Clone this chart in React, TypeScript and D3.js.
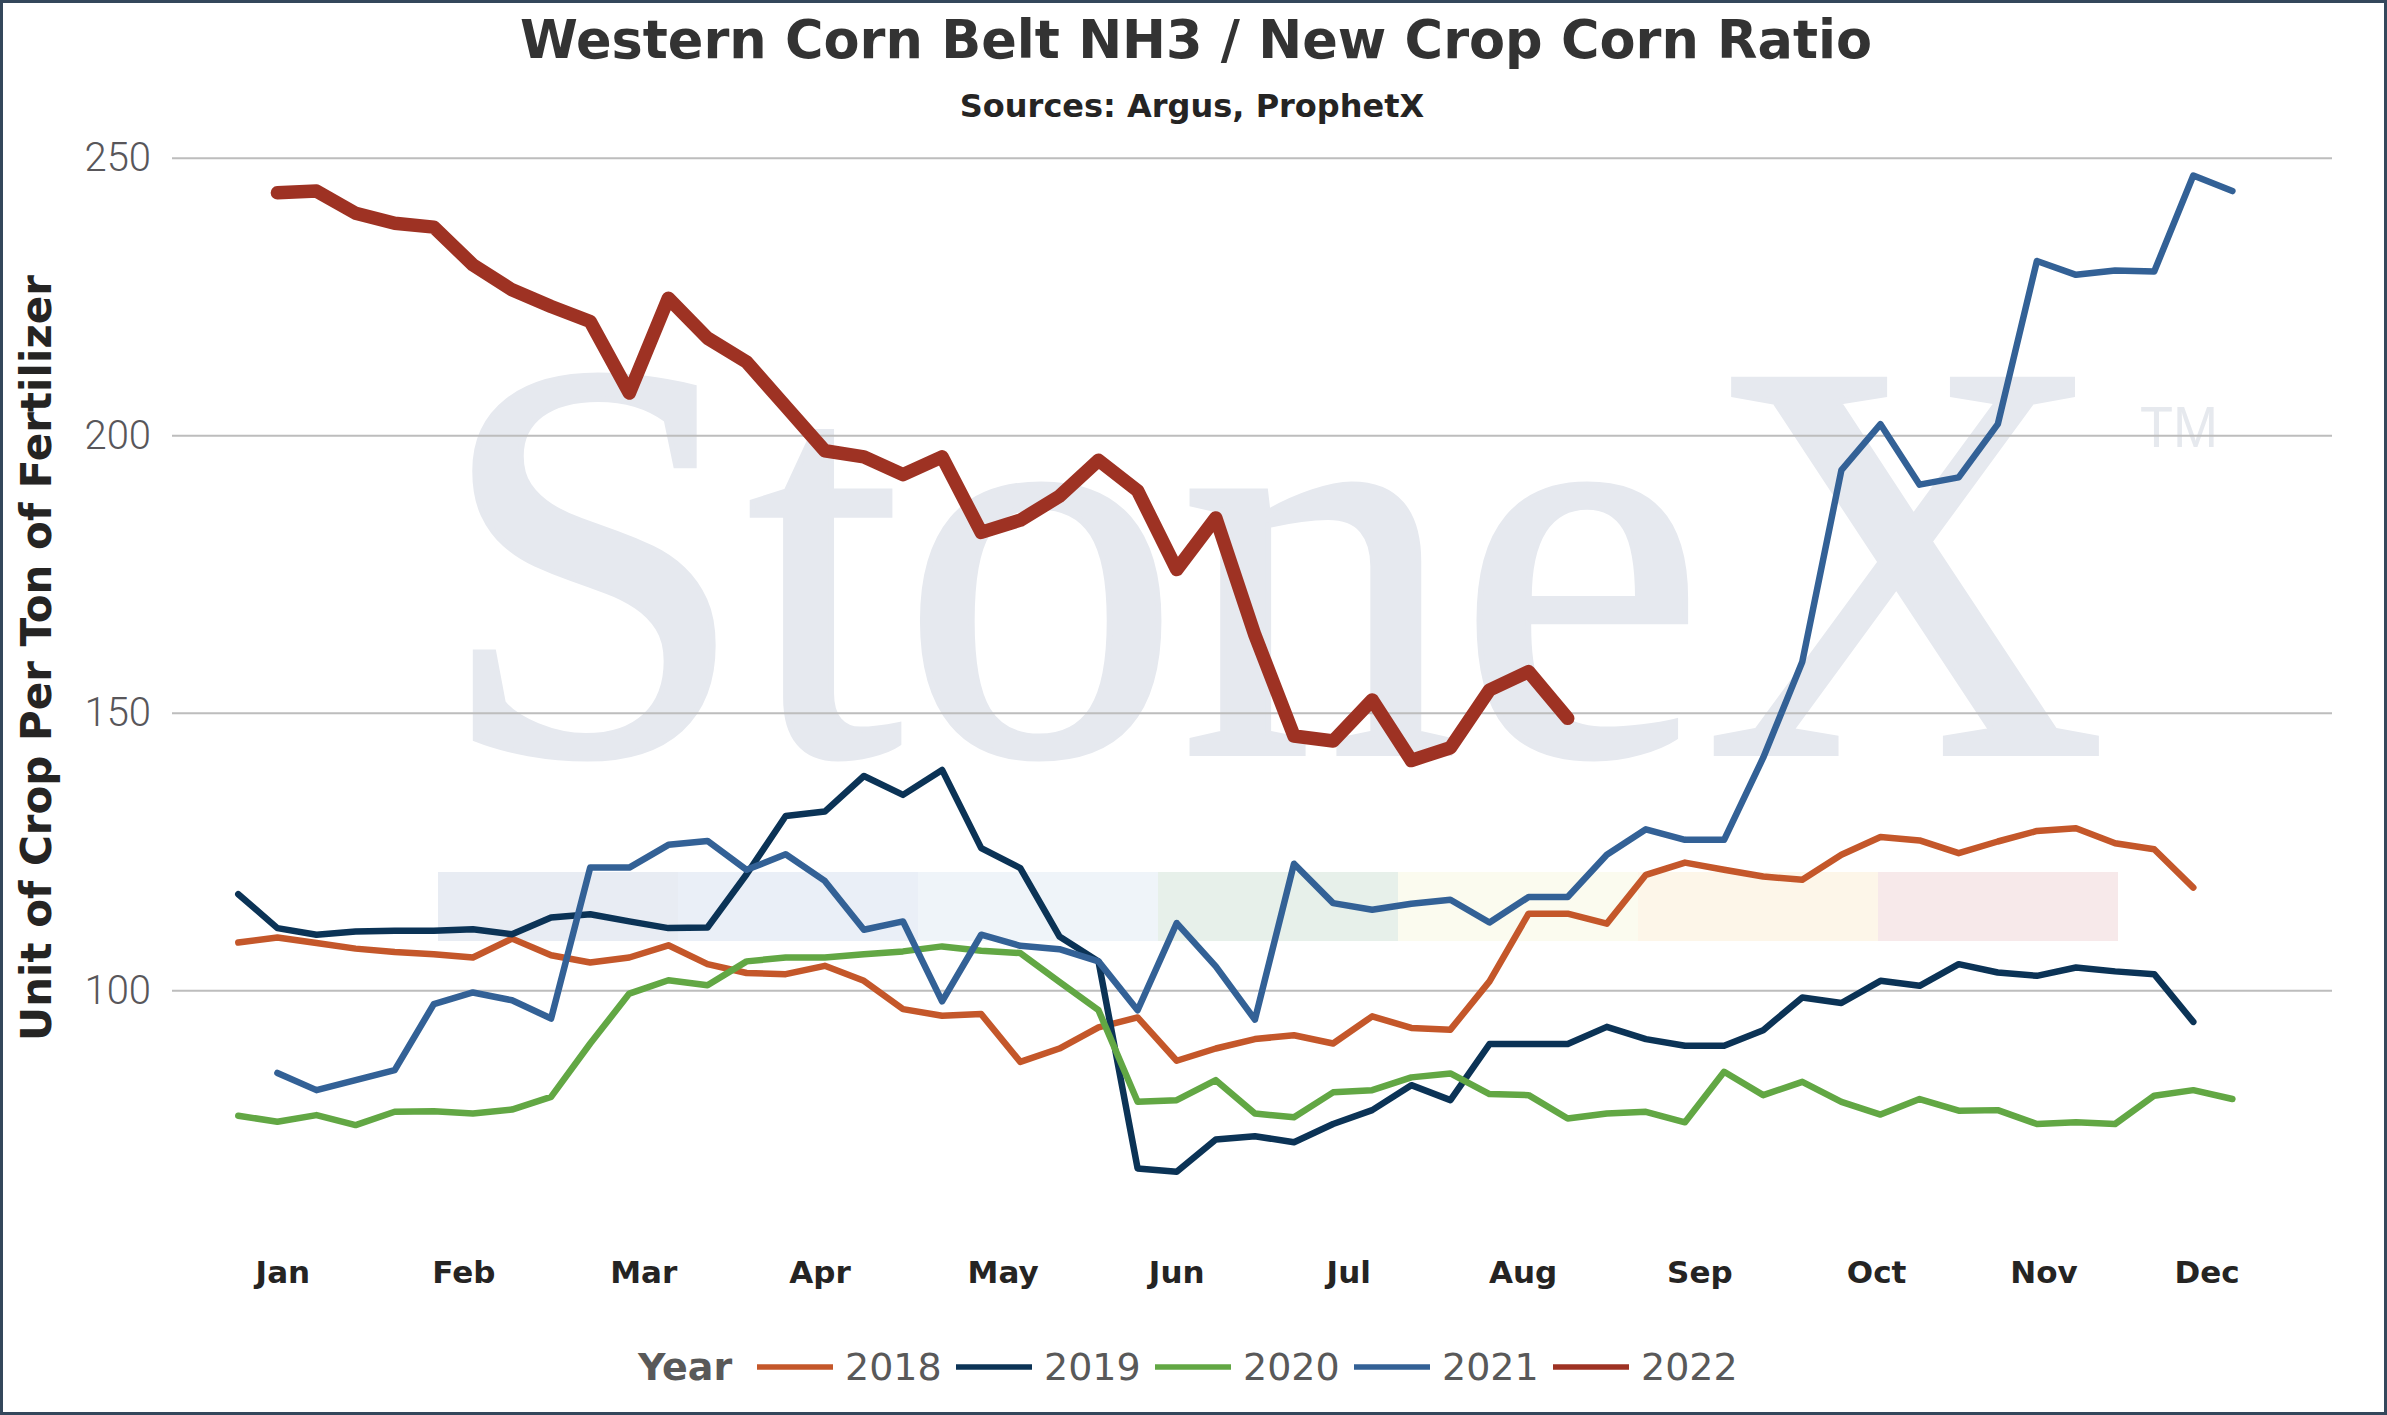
import React, { useEffect, useRef } from "react";
import * as d3 from "d3";

// weekly ratio values, index = week of year (null = no data yet)
const y2018 = [108.7, 109.6, 108.6, 107.6, 107.0, 106.6, 106.0, 109.4, 106.4, 105.1, 106.0, 108.2, 104.8, 103.2, 103.0, 104.5, 101.8, 96.7, 95.5, 95.8, 87.2, 89.6, 93.4, 95.2, 87.4, 89.6, 91.3, 92.0, 90.5, 95.4, 93.3, 93.0, 101.7, 113.9, 113.9, 112.1, 120.9, 123.1, 121.8, 120.6, 120.0, 124.5, 127.7, 127.1, 124.8, 126.9, 128.8, 129.3, 126.6, 125.5, 118.6];
const y2019 = [117.4, 111.3, 110.1, 110.7, 110.8, 110.8, 111.1, 110.2, 113.2, 113.8, 112.5, 111.3, 111.4, 121.0, 131.5, 132.3, 138.7, 135.3, 139.8, 125.7, 122.1, 109.8, 105.3, 68.0, 67.4, 73.2, 73.8, 72.7, 76.0, 78.5, 83.0, 80.3, 90.4, 90.4, 90.4, 93.5, 91.3, 90.1, 90.1, 92.9, 98.8, 97.8, 101.8, 100.9, 104.8, 103.3, 102.7, 104.2, 103.5, 103.0, 94.4];
const y2020 = [77.5, 76.4, 77.6, 75.8, 78.2, 78.3, 77.9, 78.6, 80.9, 90.5, 99.5, 101.9, 101.0, 105.3, 106.0, 106.0, 106.6, 107.1, 108.0, 107.2, 106.8, 101.6, 96.5, 80.0, 80.3, 83.9, 77.9, 77.2, 81.7, 82.1, 84.4, 85.1, 81.4, 81.2, 77.0, 77.9, 78.2, 76.3, 85.4, 81.2, 83.6, 80.0, 77.7, 80.5, 78.4, 78.5, 76.0, 76.3, 76.0, 81.1, 82.1, 80.5];
const y2021 = [null, 85.2, 82.1, 83.9, 85.7, 97.6, 99.7, 98.3, 95.0, 122.2, 122.2, 126.3, 127.0, 121.8, 124.6, 119.8, 111.0, 112.5, 98.1, 110.1, 108.1, 107.5, 105.3, 96.5, 112.2, 104.4, 94.8, 122.9, 115.8, 114.6, 115.7, 116.4, 112.3, 116.9, 116.9, 124.5, 129.1, 127.2, 127.2, 142.0, 159.3, 193.8, 202.1, 191.2, 192.5, 202.1, 231.5, 229.0, 229.8, 229.6, 246.9, 244.1];
const y2022 = [null, 243.8, 244.1, 240.1, 238.3, 237.6, 230.8, 226.3, 223.3, 220.6, 207.7, 224.8, 217.6, 213.3, 205.3, 197.3, 196.2, 193.0, 196.2, 182.6, 184.8, 189.1, 195.6, 190.1, 175.9, 185.2, 164.1, 145.9, 145.0, 152.4, 141.5, 143.8, 154.2, 157.5, 149.1];

const years = ["2018", "2019", "2020", "2021", "2022"];
const yearValues = [y2018, y2019, y2020, y2021, y2022];
const yearColors = ["#c4572a", "#0b3356", "#62a744", "#336196", "#9e3223"];

const monthLabels = ["Jan", "Feb", "Mar", "Apr", "May", "Jun", "Jul", "Aug", "Sep", "Oct", "Nov", "Dec"];
const monthWeeks = [1.14, 5.77, 10.37, 14.88, 19.56, 24.0, 28.4, 32.86, 37.38, 41.9, 46.18, 50.35];
const yTicks = [100, 150, 200, 250];

// StoneX logo stripe colours (watermark)
const bandColors = ["#e8ecf3", "#eaeff7", "#eff4f9", "#e7f0ea", "#fbfbef", "#fdf6e9", "#f7e9ea"];

const W = 2387;
const H = 1415;
const BOLD = "'DejaVu Sans', Verdana, sans-serif";

export default function App() {
  const svgRef = useRef<SVGSVGElement>(null);

  useEffect(() => {
    if (!svgRef.current) return;
    const svg = d3.select(svgRef.current);
    svg.selectAll("*").remove();

    const x = d3.scaleLinear().domain([0, 51]).range([238.3, 2232.4]);
    const y = d3.scaleLinear().domain([100, 250]).range([990.8, 158.3]);

    svg.append("rect").attr("width", W).attr("height", H).attr("fill", "#fff");

    // watermark
    const wm = svg.append("g");
    const bandX = d3.scaleLinear().domain([0, bandColors.length]).range([438, 2118]);
    wm.selectAll("rect.band")
      .data(bandColors)
      .join("rect")
      .attr("class", "band")
      .attr("x", (_, i) => bandX(i))
      .attr("width", bandX(1) - bandX(0))
      .attr("y", 872)
      .attr("height", 69)
      .attr("fill", (d) => d);
    wm.append("text")
      .attr("x", 438)
      .attr("y", 753)
      .attr("font-family", "'Liberation Serif', 'Times New Roman', serif")
      .attr("font-size", 570)
      .attr("textLength", 1668)
      .attr("lengthAdjust", "spacingAndGlyphs")
      .attr("fill", "#e6e9ef")
      .attr("stroke", "#e6e9ef")
      .attr("stroke-width", 6)
      .text("StoneX");
    wm.append("text")
      .attr("x", 2140)
      .attr("y", 447)
      .attr("font-family", "'Liberation Sans', Arial, sans-serif")
      .attr("font-size", 57)
      .attr("textLength", 78)
      .attr("lengthAdjust", "spacingAndGlyphs")
      .attr("fill", "#e6e9ee")
      .text("TM");

    // gridlines + y labels
    const grid = svg.append("g");
    grid.selectAll("line")
      .data(yTicks)
      .join("line")
      .attr("x1", 172)
      .attr("x2", 2332)
      .attr("y1", (d) => y(d))
      .attr("y2", (d) => y(d))
      .attr("stroke", "#bdbdbd")
      .attr("stroke-width", 2);
    grid.selectAll("text")
      .data(yTicks)
      .join("text")
      .attr("x", 151)
      .attr("y", (d) => y(d) + 13)
      .attr("text-anchor", "end")
      .attr("font-family", "Roboto, sans-serif")
      .attr("font-weight", 300)
      .attr("font-size", 40)
      .attr("fill", "#58565a")
      .text((d) => d);

    // month labels
    svg.append("g")
      .selectAll("text")
      .data(monthLabels)
      .join("text")
      .attr("x", (_, i) => x(monthWeeks[i]))
      .attr("y", 1283)
      .attr("text-anchor", "middle")
      .attr("font-family", BOLD)
      .attr("font-weight", "bold")
      .attr("font-size", 31)
      .attr("fill", "#252423")
      .text((d) => d);

    // series lines
    const line = d3
      .line<number | null>()
      .defined((d) => d != null)
      .x((_, i) => x(i))
      .y((d) => y(d as number));

    svg.append("g")
      .selectAll("path")
      .data(yearValues)
      .join("path")
      .attr("d", (d) => line(d))
      .attr("fill", "none")
      .attr("stroke", (_, i) => yearColors[i])
      .attr("stroke-width", (_, i) => (years[i] === "2022" ? 13.5 : 6.5))
      .attr("stroke-linejoin", "round")
      .attr("stroke-linecap", "round");

    // titles
    svg.append("text")
      .attr("x", 1196)
      .attr("y", 58)
      .attr("text-anchor", "middle")
      .attr("font-family", BOLD)
      .attr("font-weight", "bold")
      .attr("font-size", 52.5)
      .attr("fill", "#333")
      .text("Western Corn Belt NH3 / New Crop Corn Ratio");
    svg.append("text")
      .attr("x", 1192)
      .attr("y", 117)
      .attr("text-anchor", "middle")
      .attr("font-family", BOLD)
      .attr("font-weight", "bold")
      .attr("font-size", 32)
      .attr("fill", "#252423")
      .text("Sources: Argus, ProphetX");
    svg.append("text")
      .attr("transform", "translate(51,658) rotate(-90)")
      .attr("text-anchor", "middle")
      .attr("font-family", BOLD)
      .attr("font-weight", "bold")
      .attr("font-size", 42)
      .attr("fill", "#252423")
      .text("Unit of Crop Per Ton of Fertilizer");

    // legend
    const legend = svg.append("g");
    legend.append("text")
      .attr("x", 638)
      .attr("y", 1380)
      .attr("font-family", BOLD)
      .attr("font-weight", "bold")
      .attr("font-size", 38)
      .attr("fill", "#595959")
      .text("Year");
    const lx = d3.scaleLinear().domain([0, 1]).range([757, 956]);
    const item = legend
      .selectAll("g")
      .data(years)
      .join("g")
      .attr("transform", (_, i) => `translate(${lx(i)},0)`);
    item.append("line")
      .attr("x1", 0)
      .attr("x2", 76)
      .attr("y1", 1367)
      .attr("y2", 1367)
      .attr("stroke", (_, i) => yearColors[i])
      .attr("stroke-width", 5.5);
    item.append("text")
      .attr("x", 88)
      .attr("y", 1380)
      .attr("font-family", BOLD)
      .attr("font-size", 38)
      .attr("fill", "#595959")
      .text((d) => d);

    // frame
    svg.append("rect")
      .attr("x", 1.5)
      .attr("y", 1.5)
      .attr("width", W - 3)
      .attr("height", H - 3)
      .attr("fill", "none")
      .attr("stroke", "#34475b")
      .attr("stroke-width", 3);
  }, []);

  return (
    <>
      <style>{`body{margin:0}`}</style>
      <svg ref={svgRef} width={W} height={H} style={{ display: "block" }}></svg>
    </>
  );
}
